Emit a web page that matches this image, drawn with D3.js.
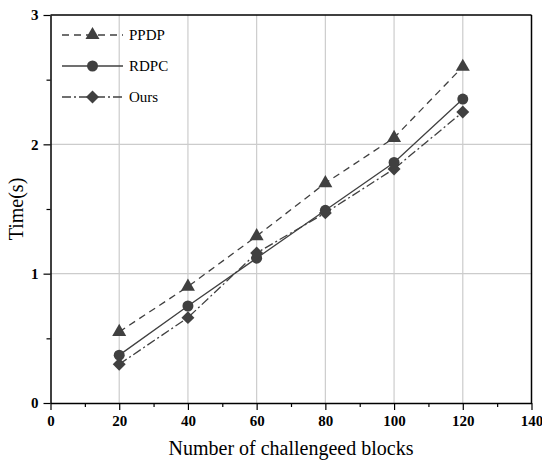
<!DOCTYPE html>
<html>
<head>
<meta charset="utf-8" />
<script src="https://cdn.jsdelivr.net/npm/d3@7"></script>
<style>
  body { margin: 0; background: #fff; }
  text { font-family: "Liberation Serif", "Times New Roman", serif; }
</style>
</head>
<body>
<script>
// data
var blocks = [20, 40, 60, 80, 100, 120];
var ppdp = [0.55, 0.90, 1.29, 1.70, 2.05, 2.60];
var rdpc = [0.37, 0.75, 1.12, 1.49, 1.86, 2.35];
var ours = [0.30, 0.66, 1.16, 1.47, 1.81, 2.25];
var seriesNames = ["PPDP", "RDPC", "Ours"];
var xTicks = [0, 20, 40, 60, 80, 100, 120, 140];
var yTicks = [0, 1, 2, 3];

var W = 542, H = 462;
var margin = {top: 15, right: 10.5, bottom: 59, left: 50.5};
var width = W - margin.left - margin.right,
    height = H - margin.top - margin.bottom;
var ink = "#404040";

var svg = d3.select("body").append("svg")
  .attr("width", W).attr("height", H);
var g = svg.append("g").attr("transform", "translate(" + margin.left + "," + margin.top + ")");

var x = d3.scaleLinear().domain([0, 140]).range([0, width]);
var y = d3.scaleLinear().domain([0, 3]).range([height, 0]);

// grid
g.selectAll(".vg").data(xTicks.filter(d => d > 0 && d < 140)).enter().append("line")
  .attr("x1", d => x(d)).attr("x2", d => x(d)).attr("y1", 0).attr("y2", height)
  .attr("stroke", "#cccccc").attr("stroke-width", 1.2);
g.selectAll(".hg").data(yTicks.filter(d => d > 0 && d < 3)).enter().append("line")
  .attr("y1", d => y(d)).attr("y2", d => y(d)).attr("x1", 0).attr("x2", width)
  .attr("stroke", "#cccccc").attr("stroke-width", 1.2);

// minor ticks
var xMinor = d3.range(10, 140, 20);
var yMinor = [0.5, 1.5, 2.5];
g.append("g").attr("transform", "translate(0," + height + ")")
  .call(d3.axisBottom(x).tickValues(xMinor).tickSize(4).tickFormat(""))
  .call(a => a.select(".domain").remove())
  .selectAll("line").attr("stroke", "#000").attr("stroke-width", 1.2);
g.append("g")
  .call(d3.axisLeft(y).tickValues(yMinor).tickSize(4).tickFormat(""))
  .call(a => a.select(".domain").remove())
  .selectAll("line").attr("stroke", "#000").attr("stroke-width", 1.2);

// main axes
var xAxis = g.append("g").attr("transform", "translate(0," + height + ")")
  .call(d3.axisBottom(x).tickValues(xTicks).tickSize(7).tickSizeOuter(0).tickPadding(5));
var yAxis = g.append("g")
  .call(d3.axisLeft(y).tickValues(yTicks).tickFormat(d3.format("d")).tickSize(7).tickSizeOuter(0).tickPadding(5));
[xAxis, yAxis].forEach(function(a) {
  a.selectAll("line").attr("stroke", "#000").attr("stroke-width", 1.2);
  a.select(".domain").attr("stroke", "#000").attr("stroke-width", 1.5);
  a.selectAll("text").attr("fill", "#000").attr("font-size", "15px").attr("font-weight", "bold");
});

// frame top & right
g.append("line").attr("x1", 0).attr("x2", width).attr("y1", 0).attr("y2", 0)
  .attr("stroke", "#000").attr("stroke-width", 1.5);
g.append("line").attr("x1", width).attr("x2", width).attr("y1", 0).attr("y2", height)
  .attr("stroke", "#000").attr("stroke-width", 1.5);

// series
var series = [
  {name: seriesNames[0], vals: ppdp, dash: "7,5", sym: d3.symbolTriangle, size: 85, rot: 0},
  {name: seriesNames[1], vals: rdpc, dash: null, sym: d3.symbolCircle, size: 95, rot: 0},
  {name: seriesNames[2], vals: ours, dash: "9,3,2,3", sym: d3.symbolSquare, size: 84, rot: 45}
];

var line = d3.line().x(d => x(d[0])).y(d => y(d[1]));

series.forEach(function(s) {
  var pts = blocks.map((b, i) => [b, s.vals[i]]);
  g.append("path").datum(pts)
    .attr("fill", "none").attr("stroke", ink).attr("stroke-width", 1.3)
    .attr("stroke-dasharray", s.dash)
    .attr("d", line);
  g.selectAll(null).data(pts).enter().append("path")
    .attr("transform", d => "translate(" + x(d[0]) + "," + y(d[1]) + ") rotate(" + s.rot + ")")
    .attr("d", d3.symbol().type(s.sym).size(s.size))
    .attr("fill", ink);
});

// legend
var lg = svg.append("g");
series.forEach(function(s, i) {
  var ly = 35 + i * 31;
  lg.append("line").attr("x1", 62).attr("x2", 123).attr("y1", ly).attr("y2", ly)
    .attr("stroke", ink).attr("stroke-width", 1.3).attr("stroke-dasharray", s.dash);
  lg.append("path").attr("transform", "translate(92.5," + ly + ") rotate(" + s.rot + ")")
    .attr("d", d3.symbol().type(s.sym).size(s.size)).attr("fill", ink);
  lg.append("text").attr("x", 129).attr("y", ly + 5).attr("font-size", "15px")
    .attr("fill", "#000").text(s.name);
});

// axis titles
svg.append("text")
  .attr("x", margin.left + width / 2).attr("y", 455)
  .attr("text-anchor", "middle").attr("font-size", "20px").attr("fill", "#000")
  .text("Number of challengeed blocks");
svg.append("text")
  .attr("transform", "translate(23," + (margin.top + height / 2) + ") rotate(-90)")
  .attr("text-anchor", "middle").attr("font-size", "20px").attr("fill", "#000")
  .text("Time(s)");
</script>
</body>
</html>
